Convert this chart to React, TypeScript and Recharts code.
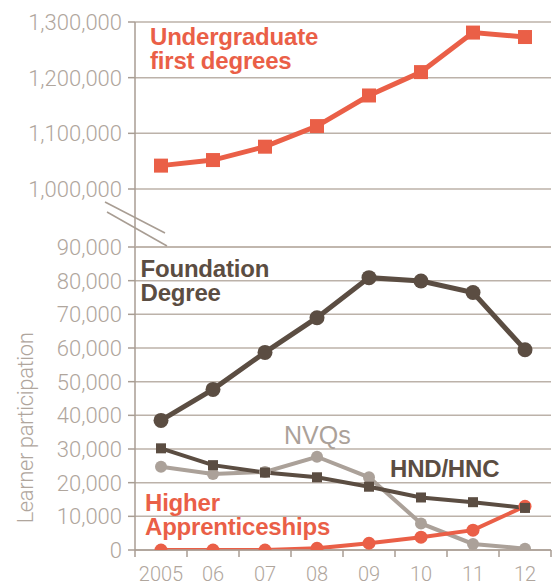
import React from 'react';
import { ComposedChart, Line, XAxis, YAxis, CartesianGrid } from 'recharts';

const years = ['2005', '06', '07', '08', '09', '10', '11', '12'];
const undergrad = [1042000, 1052000, 1076000, 1113000, 1168000, 1210000, 1281000, 1273000];
const foundation = [38500, 47700, 58700, 69000, 80900, 79900, 76500, 59500];
const hndHnc = [30200, 25200, 23000, 21600, 18800, 15600, 14200, 12500];
const nvqs = [24700, 22600, 23200, 27700, 21600, 7900, 1800, 400];
const higherApp = [0, 0, 0, 500, 2000, 3800, 5900, 13000];
const topTicks = [1000000, 1100000, 1200000, 1300000];
const bottomTicks = [0, 10000, 20000, 30000, 40000, 50000, 60000, 70000, 80000, 90000];

const data = years.map((y, i) => ({
  year: y,
  undergrad: undergrad[i],
  foundation: foundation[i],
  hnd: hndHnc[i],
  nvq: nvqs[i],
  ha: higherApp[i],
}));

const W = 554;
const H = 584;
const AXIS_W = 135;
const RIGHT = 3;
const TOP_Y = 22;
const MID_Y = 247;
const BOT_Y = 550;

const RED = '#EA5F47';
const DARK = '#5B4D42';
const GRAY = '#ABA199';
const GRID = '#BCB2A9';
const AXIS = '#A89D93';
const TICK = '#B0A69D';
const TICK_FONT = 'Roboto, "Liberation Sans", sans-serif';
const LABEL_FONT = '"Liberation Sans", Arial, sans-serif';

const halfBand = (W - AXIS_W - RIGHT) / years.length / 2;

const fmt = (v: number) => v.toLocaleString('en-US');

const yTick = (props: any) => {
  const { x, y, payload } = props;
  return (
    <text x={x} y={y} dy={8} textAnchor="end" fill={TICK} fontSize={22} fontWeight={300}
      fontFamily={TICK_FONT}>
      {fmt(payload.value)}
    </text>
  );
};

const xTick = (props: any) => {
  const { x, payload, index } = props;
  const last = index === years.length - 1;
  return (
    <g>
      <line x1={x - halfBand} x2={x - halfBand} y1={BOT_Y} y2={BOT_Y + 7} stroke={AXIS} strokeWidth={1.5} />
      {last && (
        <line x1={x + halfBand} x2={x + halfBand} y1={BOT_Y} y2={BOT_Y + 7} stroke={AXIS} strokeWidth={1.5} />
      )}
      <text x={x} y={BOT_Y + 31} textAnchor="middle" fill={TICK} fontSize={20} fontWeight={300}
        fontFamily={TICK_FONT}>
        {payload.value}
      </text>
    </g>
  );
};

const square = (size: number, color: string) => (props: any) => {
  const { cx, cy, index } = props;
  if (cx == null || cy == null) return <g key={index} />;
  return <rect key={index} x={cx - size / 2} y={cy - size / 2} width={size} height={size} fill={color} />;
};

const topMin = 1300000 - ((MID_Y - TOP_Y) / (189 - TOP_Y)) * 300000;

export default function App() {
  return (
    <div style={{ position: 'absolute', left: 0, top: 0, width: W, height: H, background: '#fff' }}>
      <div style={{ position: 'absolute', left: 0, top: 0 }}>
        <ComposedChart width={W} height={H} data={data}
          margin={{ top: TOP_Y, right: RIGHT, bottom: H - MID_Y, left: 0 }}>
          <CartesianGrid vertical={false} stroke={GRID} strokeWidth={1.5} />
          <XAxis dataKey="year" hide scale="band" />
          <YAxis type="number" width={AXIS_W} domain={[topMin, 1300000]} allowDataOverflow
            ticks={topTicks} tick={yTick} tickSize={7} tickMargin={6}
            axisLine={{ stroke: AXIS, strokeWidth: 1.5 }} tickLine={{ stroke: AXIS, strokeWidth: 1.5 }} />
          <Line dataKey="undergrad" stroke={RED} strokeWidth={5} isAnimationActive={false}
            dot={square(14, RED)} />
        </ComposedChart>
      </div>
      <div style={{ position: 'absolute', left: 0, top: 0 }}>
        <ComposedChart width={W} height={H} data={data}
          margin={{ top: MID_Y, right: RIGHT, bottom: 4, left: 0 }}>
          <CartesianGrid vertical={false} stroke={GRID} strokeWidth={1.5} />
          <XAxis dataKey="year" scale="band" height={30} tick={xTick} tickLine={false}
            axisLine={{ stroke: AXIS, strokeWidth: 1.5 }} interval={0} />
          <YAxis type="number" width={AXIS_W} domain={[0, 90000]} allowDataOverflow
            ticks={bottomTicks} tick={yTick} tickSize={7} tickMargin={6}
            axisLine={{ stroke: AXIS, strokeWidth: 1.5 }} tickLine={{ stroke: AXIS, strokeWidth: 1.5 }} />
          <Line dataKey="nvq" stroke={GRAY} strokeWidth={4} isAnimationActive={false}
            dot={{ r: 6, fill: GRAY, stroke: 'none' }} />
          <Line dataKey="ha" stroke={RED} strokeWidth={4} isAnimationActive={false}
            dot={{ r: 6.5, fill: RED, stroke: 'none' }} />
          <Line dataKey="hnd" stroke={DARK} strokeWidth={4} isAnimationActive={false}
            dot={square(10, DARK)} />
          <Line dataKey="foundation" stroke={DARK} strokeWidth={5} isAnimationActive={false}
            dot={{ r: 7.5, fill: DARK, stroke: 'none' }} />
        </ComposedChart>
      </div>
      <svg width={W} height={H} style={{ position: 'absolute', left: 0, top: 0, pointerEvents: 'none' }}>
        <line x1={105} y1={202} x2={165} y2={233} stroke={AXIS} strokeWidth={1.5} />
        <line x1={107} y1={212} x2={167} y2={246} stroke={AXIS} strokeWidth={1.5} />
        <text x={33} y={428} transform="rotate(-90 33 428)" textAnchor="middle" fill={TICK}
          fontSize={22} fontWeight={300} fontFamily={TICK_FONT} letterSpacing={-0.4}>
          Learner participation
        </text>
        <g fontFamily={LABEL_FONT} fontWeight="bold" fontSize={24} letterSpacing={-0.2}>
          <text x={150} y={45} fill={RED}>Undergraduate</text>
          <text x={150} y={69} fill={RED}>first degrees</text>
          <text x={140.5} y={276.7} fill={DARK}>Foundation</text>
          <text x={140.5} y={301} fill={DARK}>Degree</text>
          <text x={390} y={477} fill={DARK}>HND/HNC</text>
          <text x={145} y={510.7} fill={RED}>Higher</text>
          <text x={145} y={535} fill={RED}>Apprenticeships</text>
        </g>
        <text x={284} y={444} fill={GRAY} fontFamily={LABEL_FONT} fontSize={25} fontWeight={500}>NVQs</text>
      </svg>
    </div>
  );
}
